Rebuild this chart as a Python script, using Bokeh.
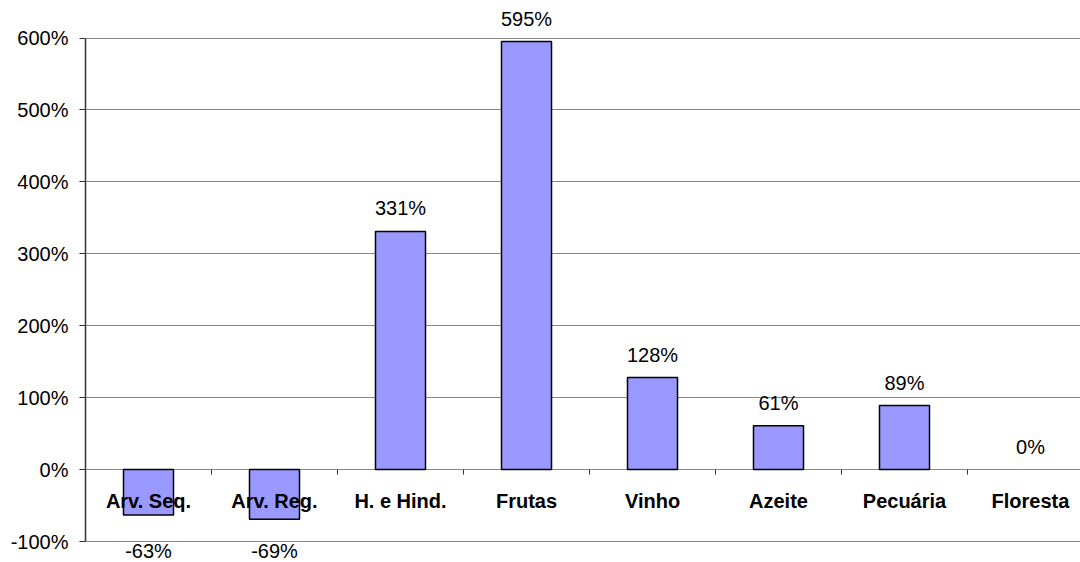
from bokeh.plotting import figure
from bokeh.models import ColumnDataSource, FixedTicker, LabelSet, Range1d
from bokeh.core.properties import value
from bokeh.embed import file_html
from bokeh.resources import INLINE

categories = ["Arv. Seq.", "Arv. Reg.", "H. e Hind.", "Frutas", "Vinho", "Azeite", "Pecuária", "Floresta"]
values = [-63, -69, 331, 595, 128, 61, 89, 0]
y_ticks = [-100, 0, 100, 200, 300, 400, 500, 600]

Y_MIN, Y_MAX = -100, 600
FONT = "Liberation Sans"
FS = "20px"

# layout (pixels)
W, H = 1080, 562
LEFT = 85          # frame left edge (y axis line)
PLOT_TOP = 37.5    # pixel row of Y_MAX
PLOT_BOT = 541.0   # pixel row of Y_MIN
CAT_PX = 126.0     # pixels per category

px_per_unit = (PLOT_BOT - PLOT_TOP) / (Y_MAX - Y_MIN)
y_lo = Y_MIN - (H - PLOT_BOT) / px_per_unit
y_hi = Y_MAX + PLOT_TOP / px_per_unit
x_end = (W - LEFT) / CAT_PX
tick_len = 5 / px_per_unit

n = len(categories)
xc = [i + 0.5 for i in range(n)]
bounds = [i for i in range(1, n + 1)]

src = ColumnDataSource(dict(
    x=xc,
    top=values,
    cat=categories,
    lbl=[f"{v}%" for v in values],
    lc=["black" if v != 0 else None for v in values],
    ly=[v if v >= 0 else Y_MIN for v in values],
    lyo=[23 if v >= 0 else -9 for v in values],
    zero=[0] * n,
))

tsrc = ColumnDataSource(dict(x=bounds, y0=[0] * len(bounds), y1=[-tick_len] * len(bounds)))

p = figure(width=W, height=H, output_backend="svg", toolbar_location=None,
           x_range=Range1d(0, x_end), y_range=Range1d(y_lo, y_hi),
           x_axis_location=None,
           min_border_left=LEFT, min_border_right=0, min_border_top=0,
           min_border_bottom=0, outline_line_color=None,
           background_fill_color="white", border_fill_color="white")

p.ygrid.ticker = FixedTicker(ticks=y_ticks)
p.ygrid.grid_line_color = "#888888"
p.ygrid.grid_line_width = 1
p.xgrid.grid_line_color = None

p.vbar(x="x", top="top", bottom=0, width=0.397, source=src,
       fill_color="#9999FF", line_color="lc", line_width=1.5)

# category tick marks on the zero line
p.segment(x0="x", y0="y0", x1="x", y1="y1", source=tsrc, line_color="#333333", line_width=1)

# y axis
yax = p.yaxis[0]
yax.ticker = FixedTicker(ticks=y_ticks)
yax.bounds = (Y_MIN, Y_MAX)
yax.major_label_overrides = {v: f"{v}%" for v in y_ticks}
yax.major_label_text_font = FONT
yax.major_label_text_font_size = FS
yax.major_label_text_color = "black"
yax.axis_line_color = "#333333"
yax.axis_line_width = 1.5
yax.major_tick_line_color = "#333333"
yax.major_tick_out = 6
yax.major_tick_in = 0
yax.minor_tick_line_color = None
yax.major_label_standoff = 11

cat_labels = LabelSet(x="x", y="zero", text="cat", source=src, y_offset=-31,
                      text_align="center", text_baseline="middle",
                      text_font=value(FONT), text_font_size=value(FS), text_font_style="bold",
                      text_color="black")
p.add_layout(cat_labels)

val_labels = LabelSet(x="x", y="ly", text="lbl", source=src, y_offset="lyo",
                      text_align="center", text_baseline="middle",
                      text_font=value(FONT), text_font_size=value(FS), text_color="black")
p.add_layout(val_labels)

open("out.html", "w").write(file_html(p, INLINE))
